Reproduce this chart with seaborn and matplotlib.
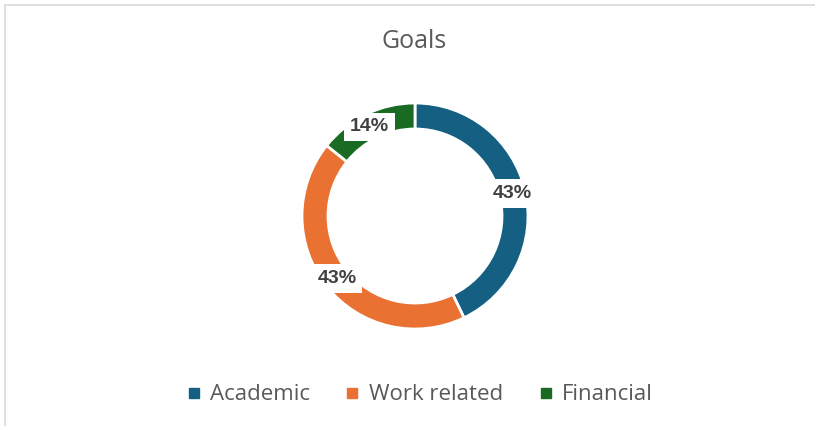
import numpy as np
import matplotlib
matplotlib.use("Agg")
import matplotlib.pyplot as plt
from matplotlib.lines import Line2D
from matplotlib.patches import Rectangle
import seaborn as sns

# data
categories = ["Academic", "Work related", "Financial"]
shares = [3, 3, 1]
pct_labels = ["43%", "43%", "14%"]
colors = ["#156082", "#E97132", "#196B24"]
label_angle_override = {2: 117}   # Excel nudged the small label off the slice

sns.set_theme(style="white")
plt.rcParams["font.family"] = ["Open Sans", "DejaVu Sans"]

fig = plt.figure(figsize=(8.15, 4.26), dpi=100)
W, H = 815, 426

# donut axes: center (415, 216) px, radius 113 px
cx, cy, r = 415, 216, 113
ax = fig.add_axes([(cx - r) / W, (H - cy - r) / H, 2 * r / W, 2 * r / H])
wedges, _ = ax.pie(shares, colors=colors, startangle=90, counterclock=False,
                   radius=1, wedgeprops=dict(width=0.23, edgecolor="white", linewidth=2))
ax.set_xlim(-1, 1)
ax.set_ylim(-1, 1)
ax.set_aspect("equal")
ax.axis("off")

# percentage labels on the ring
total = sum(shares)
start = 90
for i, v in enumerate(shares):
    span = 360 * v / total
    mid = start - span / 2
    start -= span
    ang = np.deg2rad(label_angle_override.get(i, mid))
    rr = 1 - 0.115
    ax.text(rr * np.cos(ang), rr * np.sin(ang), pct_labels[i], ha="center", va="center",
            fontsize=14, fontweight="bold", color="#404040",
            family=["Liberation Sans", "DejaVu Sans"],
            bbox=dict(boxstyle="square,pad=0.3", facecolor="white", edgecolor="none"))

fig.text(414.5 / W, 1 - 41 / H, "Goals", ha="center", va="center",
         fontsize=18, color="#595959")

handles = [Line2D([], [], marker="s", linestyle="none", markersize=7.5,
                  markerfacecolor=c, markeredgecolor=c) for c in colors]
leg = fig.legend(handles, categories, loc="center", bbox_to_anchor=(420 / W, 1 - 395 / H),
                 ncol=3, frameon=False, fontsize=16, handlelength=0.6,
                 handletextpad=0.45, columnspacing=1.6, labelcolor="#595959")

# chart border (only top and left edges fall inside the image)
fig.add_artist(Rectangle((5 / W, -0.1), 1.2, 1 - 5 / H + 0.1, transform=fig.transFigure,
                         fill=False, edgecolor="#d9d9d9", linewidth=1.2))

fig.savefig("out.png", dpi=100, facecolor="white")
